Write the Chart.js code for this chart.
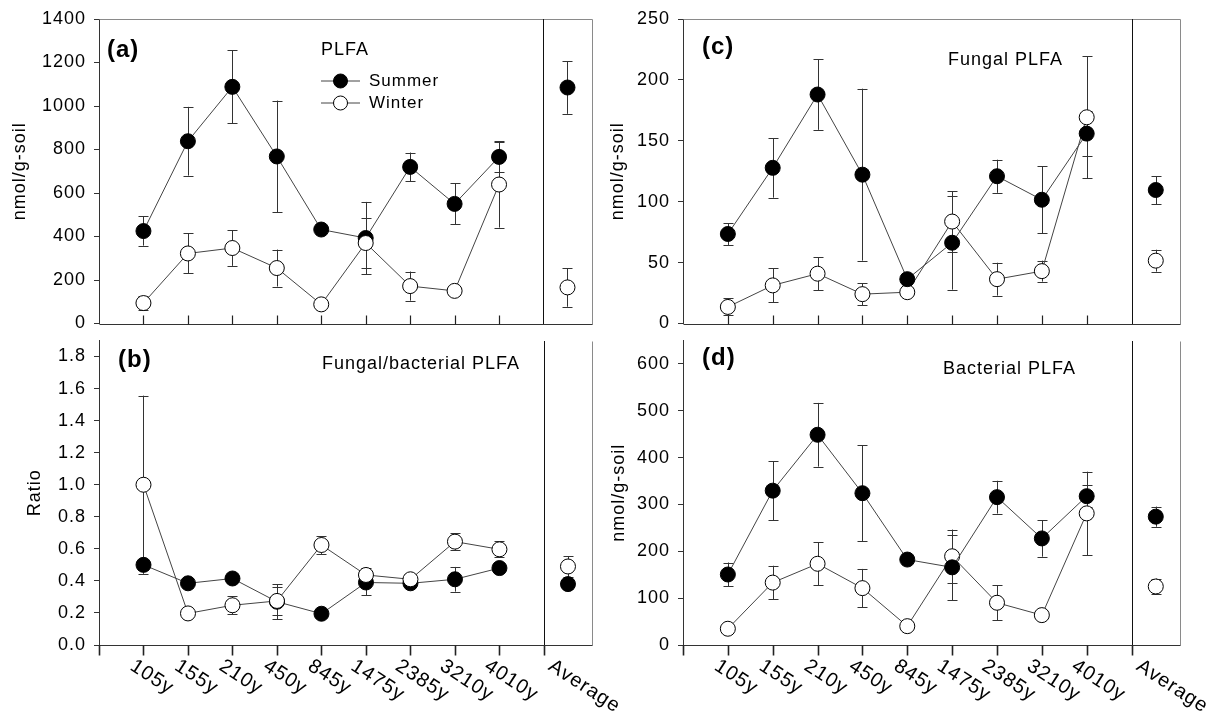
<!DOCTYPE html>
<html>
<head>
<meta charset="utf-8">
<script src="https://cdn.jsdelivr.net/npm/chart.js@4.4.1/dist/chart.umd.min.js"></script>
<style>
  body { margin: 0; background: #fff; width: 1225px; height: 719px; overflow: hidden; position: relative; }
  canvas { position: absolute; }
</style>
</head>
<body>
<canvas id="pa" width="600" height="332" style="left:0px;top:0px"></canvas>
<canvas id="pb" width="640" height="387" style="left:0px;top:332px"></canvas>
<canvas id="pc" width="625" height="332" style="left:600px;top:0px"></canvas>
<canvas id="pd" width="625" height="387" style="left:600px;top:332px"></canvas>
<script>
const ages = ['105y', '155y', '210y', '450y', '845y', '1475y', '2385y', '3210y', '4010y'];
const avgLabel = 'Average';

// (a) total PLFA, nmol/g-soil
const plfaSummer = [425, 838, 1088, 768, 432, 393, 720, 550, 766];
const plfaSummerErr = [67, 158, 168, 257, 15, 166, 66, 94, 70];
const plfaWinter = [94, 322, 347, 255, 88, 370, 172, 150, 639];
const plfaWinterErr = [34, 92, 82, 85, 15, 115, 67, 20, 198];
const plfaAvg = [1085, 166];      // summer, winter
const plfaAvgErr = [121, 89];

// (b) fungal/bacterial ratio
const ratioSummer = [0.50, 0.385, 0.415, 0.27, 0.195, 0.39, 0.385, 0.41, 0.48];
const ratioSummerErr = [0.03, 0.03, 0.03, 0.11, 0.02, 0.08, 0.03, 0.077, 0.03];
const ratioWinter = [1.0, 0.197, 0.248, 0.275, 0.624, 0.437, 0.41, 0.645, 0.597];
const ratioWinterErr = [0.556, 0.02, 0.055, 0.085, 0.056, 0.045, 0.02, 0.053, 0.05];
const ratioAvg = [0.38, 0.49];
const ratioAvgErr = [0.03, 0.065];

// (c) fungal PLFA
const fungSummer = [73.5, 127.8, 188, 122.2, 36.4, 66.3, 120.9, 101.6, 155.9];
const fungSummerErr = [9, 24.5, 29, 70.6, 4, 38.5, 13.6, 27.5, 18.5];
const fungWinter = [13.6, 31.3, 40.9, 24.1, 25.7, 83.7, 36.4, 43, 169.3];
const fungWinterErr = [7, 14, 13.5, 9, 3, 25, 13.5, 8.6, 50];
const fungAvg = [109.6, 51.6];
const fungAvgErr = [11.5, 9];

// (d) bacterial PLFA
const bactSummer = [150.5, 329.5, 448.8, 324, 182.4, 165.8, 315.6, 227.5, 317.7];
const bactSummerErr = [25.6, 63, 68, 102, 8, 70, 35, 39, 23];
const bactWinter = [34.7, 133.2, 173.4, 121.4, 40.2, 189.4, 90.2, 63.8, 281];
const bactWinterErr = [8, 36, 46, 41, 8, 57, 37, 8, 89];
const bactAvg = [274, 124.9];
const bactAvgErr = [21.5, 17];

const AVG_X = 10.54;
const X_MAX = 11.08;
const FONT = '"Liberation Sans", Arial, sans-serif';

Chart.defaults.font.family = FONT;
Chart.defaults.font.size = 18;
Chart.defaults.color = '#000';

function drawRot(ctx, text, x, y, ang) {
  ctx.save();
  ctx.translate(x, y);
  ctx.rotate(ang);
  ctx.fillText(text, 0, 0);
  ctx.restore();
}

const framePlugin = {
  id: 'frame',
  beforeDraw(chart) {
    chart.ctx.letterSpacing = '1px';
  },
  beforeDatasetsDraw(chart, args, o) {
    const { ctx, chartArea: a, scales: { x, y } } = chart;
    const L = Math.round(a.left) + 0.5, R = Math.round(a.right) + 0.5;
    const T = Math.round(a.top) + 0.5, B = Math.round(a.bottom) + 0.5;
    const sep = Math.round(x.getPixelForValue(10)) + 0.5;
    ctx.save();
    ctx.lineWidth = 1;
    ctx.strokeStyle = '#8a8a8a';
    ctx.beginPath();
    if (!o.bottom) { ctx.moveTo(L, T); ctx.lineTo(R, T); }
    ctx.moveTo(R, T); ctx.lineTo(R, B);
    ctx.stroke();
    ctx.strokeStyle = '#111';
    ctx.beginPath(); ctx.moveTo(sep, T - 0.5); ctx.lineTo(sep, B); ctx.stroke();
    ctx.strokeStyle = '#333';
    ctx.beginPath(); ctx.moveTo(L, B); ctx.lineTo(R, B); ctx.stroke();

    // category ticks
    ctx.strokeStyle = '#222';
    ctx.lineWidth = o.bottom ? 1.6 : 1.2;
    ctx.beginPath();
    for (let k = o.bottom ? 0 : 1; k <= (o.bottom ? 10 : 9); k++) {
      const px = Math.round(x.getPixelForValue(k)) + 0.5;
      if (o.bottom) { ctx.moveTo(px, B); ctx.lineTo(px, B + 10); }
      else { ctx.moveTo(px, B - 9); ctx.lineTo(px, B); }
    }
    ctx.stroke();

    // error bars
    ctx.strokeStyle = '#333';
    ctx.lineWidth = 1;
    chart.data.datasets.forEach((ds, i) => {
      const meta = chart.getDatasetMeta(i);
      meta.data.forEach((pt, j) => {
        const v = ds.data[j].y, e = ds.errors[j];
        const y1 = y.getPixelForValue(v + e), y2 = y.getPixelForValue(v - e);
        const px = Math.round(pt.x) + 0.5;
        ctx.beginPath();
        ctx.moveTo(px, y1); ctx.lineTo(px, y2);
        ctx.moveTo(px - 5, Math.round(y1) + 0.5); ctx.lineTo(px + 5, Math.round(y1) + 0.5);
        ctx.moveTo(px - 5, Math.round(y2) + 0.5); ctx.lineTo(px + 5, Math.round(y2) + 0.5);
        ctx.stroke();
      });
    });
    ctx.restore();
  },
  afterDraw(chart, args, o) {
    const { ctx, chartArea: a, scales: { x } } = chart;
    ctx.save();
    ctx.fillStyle = '#000';
    ctx.textBaseline = 'middle';
    ctx.textAlign = 'left';
    ctx.font = 'bold 24px ' + FONT;
    ctx.fillText(o.tag, o.tagX, o.tagY);
    ctx.font = '18px ' + FONT;
    ctx.fillText(o.title, o.titleX, o.titleY);

    if (o.legend) {
      const rows = [['Summer', '#000'], ['Winter', '#fff']];
      rows.forEach(([t, fill], i) => {
        const ly = o.legend.y + i * 22;
        ctx.strokeStyle = '#444';
        ctx.lineWidth = 1;
        ctx.beginPath(); ctx.moveTo(o.legend.x, ly); ctx.lineTo(o.legend.x + 39, ly); ctx.stroke();
        ctx.beginPath(); ctx.arc(o.legend.x + 19.5, ly, 7, 0, Math.PI * 2);
        ctx.fillStyle = fill; ctx.fill();
        ctx.strokeStyle = '#000'; ctx.stroke();
        ctx.fillStyle = '#000';
        ctx.font = '17px ' + FONT;
        ctx.fillText(t, o.legend.x + 48, ly);
      });
    }

    if (o.bottom) {
      ctx.font = '20px ' + FONT;
      ctx.textBaseline = 'top';
      const ang = 33 * Math.PI / 180;
      const yl = a.bottom + 11;
      ages.forEach((t, i) => {
        const w = ctx.measureText(t).width;
        drawRot(ctx, t, x.getPixelForValue(i + 1) - 0.13 * w, yl, ang);
      });
      const w = ctx.measureText(avgLabel).width;
      drawRot(ctx, avgLabel, x.getPixelForValue(AVG_X) - 0.15 * w, yl, ang);
    }
    ctx.restore();
  }
};

function series(vals, errs, avg, avgErr, fill, order) {
  const common = {
    borderColor: '#444', borderWidth: 1,
    pointRadius: 7.5, pointHoverRadius: 7.5, pointBorderWidth: 1,
    pointBorderColor: '#000', pointBackgroundColor: fill, order
  };
  return [
    Object.assign({ data: vals.map((v, i) => ({ x: i + 1, y: v })), errors: errs, showLine: true }, common),
    Object.assign({ data: [{ x: AVG_X, y: avg }], errors: [avgErr], showLine: false }, common)
  ];
}

function yAxis(max, step, decimals, title, titlePad, width) {
  return {
    min: 0, max,
    ticks: { stepSize: step, includeBounds: false, padding: 8, color: '#000', font: { size: 18 },
             callback: v => v.toFixed(decimals) },
    grid: { drawOnChartArea: false, tickLength: 5, color: '#333' },
    border: { color: '#333', width: 1 },
    title: { display: true, text: title, color: '#000', font: { size: 18 }, padding: { top: titlePad, bottom: 0 } },
    afterFit(s) { s.width = width; s.paddingTop = 0; s.paddingBottom = 0; }
  };
}

function panel(id, p) {
  new Chart(document.getElementById(id), {
    type: 'scatter',
    data: {
      datasets: [
        ...series(p.summer, p.summerErr, p.avg[0], p.avgErr[0], '#000', p.summerOnTop ? 0 : 1),
        ...series(p.winter, p.winterErr, p.avg[1], p.avgErr[1], '#fff', p.summerOnTop ? 1 : 0)
      ]
    },
    options: {
      responsive: false,
      animation: false,
      events: [],
      layout: { padding: p.pad },
      scales: {
        x: { type: 'linear', display: false, min: 0, max: X_MAX },
        y: p.y
      },
      plugins: { legend: { display: false }, tooltip: { enabled: false }, frame: p.frame }
    },
    plugins: [framePlugin]
  });
}

panel('pa', {
  summer: plfaSummer, summerErr: plfaSummerErr, winter: plfaWinter, winterErr: plfaWinterErr,
  avg: plfaAvg, avgErr: plfaAvgErr, summerOnTop: false,
  pad: { left: 0, right: 8, top: 19, bottom: 1 },
  y: yAxis(1400, 200, 0, 'nmol/g-soil', 9, 99),
  frame: { bottom: false, tag: '(a)', tagX: 107, tagY: 50, title: 'PLFA', titleX: 321, titleY: 50,
           legend: { x: 321, y: 81 } }
});

panel('pb', {
  summer: ratioSummer, summerErr: ratioSummerErr, winter: ratioWinter, winterErr: ratioWinterErr,
  avg: ratioAvg, avgErr: ratioAvgErr, summerOnTop: false,
  pad: { left: 0, right: 48, top: 0, bottom: 74 },
  y: yAxis(1.9, 0.2, 1, 'Ratio', 24, 99),
  frame: { bottom: true, tag: '(b)', tagX: 118, tagY: 28, title: 'Fungal/bacterial PLFA', titleX: 322, titleY: 32 }
});

panel('pc', {
  summer: fungSummer, summerErr: fungSummerErr, winter: fungWinter, winterErr: fungWinterErr,
  avg: fungAvg, avgErr: fungAvgErr, summerOnTop: true,
  pad: { left: 0, right: 45, top: 19, bottom: 1 },
  y: yAxis(250, 50, 0, 'nmol/g-soil', 7, 83),
  frame: { bottom: false, tag: '(c)', tagX: 102, tagY: 47, title: 'Fungal PLFA', titleX: 348, titleY: 60 }
});

panel('pd', {
  summer: bactSummer, summerErr: bactSummerErr, winter: bactWinter, winterErr: bactWinterErr,
  avg: bactAvg, avgErr: bactAvgErr, summerOnTop: true,
  pad: { left: 0, right: 45, top: 0, bottom: 74 },
  y: yAxis(650, 100, 0, 'nmol/g-soil', 8, 83),
  frame: { bottom: true, tag: '(d)', tagX: 102, tagY: 26, title: 'Bacterial PLFA', titleX: 343, titleY: 37 }
});
</script>
</body>
</html>
